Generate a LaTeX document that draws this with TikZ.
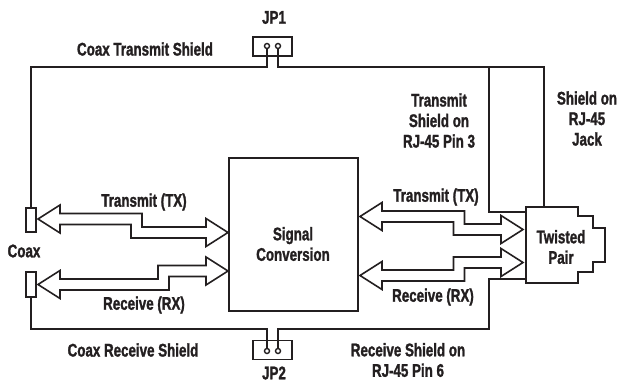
\documentclass[tikz,border=0pt]{standalone}
\usepackage{fontspec}
\newfontfamily\labfont{Liberation Sans Bold}[FakeStretch=0.73, FakeBold=1.4]
\definecolor{ink}{RGB}{35,31,32}

% wide double-headed arrow with one step: tip x, tip y, step x, end tip x, end tip y
\newcommand{\widearrow}[5]{%
  \pgfmathsetmacro{\sgn}{sign(#5-#2)}
  \draw[fatarrow] (#1,#2) -- ++(22,-14) -- ++(0,8.5) -- ({#3+5.5*(\sgn)},{#2-5.5}) -- ({#3+5.5*(\sgn)},{#5-5.5})
    -- ({#4-22},{#5-5.5}) -- ++(0,-8.5) -- (#4,#5) -- ({#4-22},{#5+14}) -- ++(0,-8.5)
    -- ({#3-5.5*(\sgn)},{#5+5.5}) -- ({#3-5.5*(\sgn)},{#2+5.5}) -- ({#1+22},{#2+5.5}) -- ++(0,8.5) -- cycle;}

\begin{document}
\begin{tikzpicture}[x=1pt, y=-1pt, ink,
    lab/.style={font=\labfont\fontsize{18.3}{20.5}\selectfont, align=center, inner sep=0pt},
    wire/.style={draw=ink, line width=1.6pt},
    fatarrow/.style={draw=ink, line width=1.6pt, line join=miter},
    coaxjack/.style={draw=ink, line width=1.6pt, minimum width=10pt, minimum height=24pt, inner sep=0pt},
    jumpbox/.style={draw=ink, line width=1.8pt, minimum width=39pt, minimum height=19pt, inner sep=0pt},
    jumppin/.style={draw=ink, line width=1.4pt, circle, minimum size=5pt, inner sep=0pt},
    sigbox/.style={draw=ink, line width=2pt, minimum width=129pt, minimum height=153pt, inner sep=0pt}]
    \useasboundingbox (0,0) rectangle (620,385);

    % Define boxes
    \node[sigbox] (sig) at (293.5,234.5) {};
    \node[lab] (sigtxt) at (293,244) {Signal\\Conversion};
    \draw[ink, line width=2.8pt, line join=miter] (526,207) -- (578,207) -- (578,216) -- (593,216) -- (593,228)
      -- (605,228) -- (605,262) -- (593,262) -- (593,272) -- (578,272) -- (578,283) -- (526,283) -- cycle;
    \node[lab] (tp) at (561,247) {Twisted\\Pair};
    \node[coaxjack] (coaxtx) at (31,220) {};
    \node[coaxjack, minimum height=25pt] (coaxrx) at (31,284.5) {};
    \node[lab] (coax) at (24,251) {Coax};

    % Jumpers
    \node[jumpbox] (jp1) at (272.5,46.5) {};
    \node[jumppin] (jp1a) at (267,46) {};
    \node[jumppin] (jp1b) at (278,46) {};
    \node[lab] (jp1lbl) at (274,17.5) {JP1};
    \node[jumpbox] (jp2) at (272.5,350) {};
    \node[jumppin] (jp2a) at (267,351) {};
    \node[jumppin] (jp2b) at (278,351) {};
    \node[lab] (jp2lbl) at (274,373) {JP2};

    % Shield wiring
    \coordinate (topy) at (0,67);
    \coordinate (boty) at (0,329);
    \coordinate (tptop) at (544,207);
    \coordinate (tap1) at (489,67);
    \coordinate (tpin) at (526,212);
    \coordinate (rxbend) at (489,279);
    \coordinate (tpout) at (526,279);
    \draw[wire] (coaxtx.north) |- (jp1a |- topy) -- (jp1a.south);
    \draw[wire] (jp1b.south) -- (jp1b |- topy) -| (tptop);
    \draw[wire] (tap1) |- (tpin);
    \draw[wire] (coaxrx.south) |- (jp2a |- boty) -- (jp2a.north);
    \draw[wire] (jp2b.north) -- (jp2b |- boty) -| (rxbend) -- (tpout);

    % Signal paths
    \widearrow{38}{219}{136.5}{228}{232.5}
    \widearrow{38}{284.5}{163.5}{228}{271}
    \widearrow{360}{216.5}{459}{523}{229.5}
    \widearrow{360}{275.5}{459}{523}{262.5}
    \node[lab] (txl) at (144,202) {Transmit (TX)};
    \node[lab] (rxl) at (144,305) {Receive (RX)};
    \node[lab] (txr) at (436,197) {Transmit (TX)};
    \node[lab] (rxr) at (433,297) {Receive (RX)};

    % Shield labels
    \node[lab] (cts) at (145,49) {Coax Transmit Shield};
    \node[lab] (crs) at (133,350) {Coax Receive Shield};
    \node[lab] (tsh) at (439,120.5) {Transmit\\Shield on\\RJ-45 Pin 3};
    \node[lab] (jsh) at (587,118.5) {Shield on\\RJ-45\\Jack};
    \node[lab] (rsh) at (408,360) {Receive Shield on\\RJ-45 Pin 6};

\end{tikzpicture}
\end{document}
